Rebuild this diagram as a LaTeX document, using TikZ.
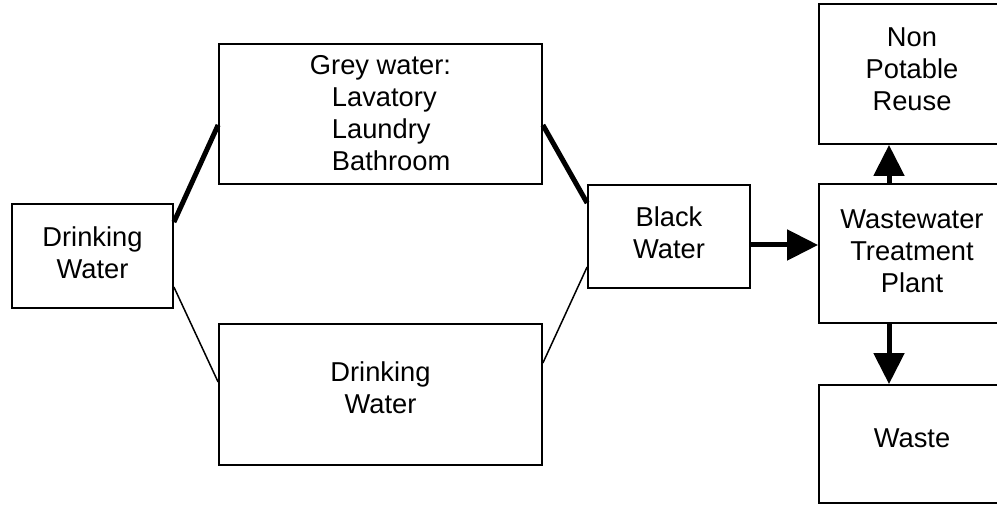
\documentclass[tikz,border=0pt]{standalone}
\usepackage{fontspec}
\setmainfont{Liberation Sans}
\usetikzlibrary{arrows.meta}
\begin{document}
\begin{tikzpicture}[x=1pt,y=-1pt,
  box/.style={draw,line width=1.8pt,inner sep=0pt},
  txt/.style={inner sep=0pt,align=center,font=\fontsize{27.3}{32}\selectfont},
  thin/.style={line width=1.5pt},
  thick/.style={line width=5pt},
  flow/.style={line width=5pt,-{Triangle[length=31pt,width=30pt]}}]
\useasboundingbox (0,0) rectangle (997,505);
\clip (0,0) rectangle (997,505);
\node[box,minimum width=161pt,minimum height=104pt,
  label={[txt,name=dwt,yshift=3pt]center:Drinking\\Water}] (dw) at (92.5,256) {};
\node[box,minimum width=323pt,minimum height=140pt,
  label={[txt,name=gwt,align=left,yshift=1pt]center:Grey water:\\\hspace*{22pt}Lavatory\\\hspace*{22pt}Laundry\\\hspace*{22pt}Bathroom}] (gw) at (380.5,114) {};
\node[box,minimum width=323pt,minimum height=141pt,
  label={[txt,name=dw2t,yshift=6.5pt]center:Drinking\\Water}] (dw2) at (380.5,394.5) {};
\node[box,minimum width=162pt,minimum height=103pt,
  label={[txt,name=bwt,yshift=3.5pt]center:Black\\Water}] (bw) at (669,236.5) {};
\node[box,minimum width=186pt,minimum height=139pt,
  label={[txt,name=wtt,yshift=2pt]center:Wastewater\\Treatment\\Plant}] (wt) at (912,253.5) {};
\node[box,minimum width=186pt,minimum height=140pt,
  label={[txt,name=npt,yshift=5pt]center:Non\\Potable\\Reuse}] (np) at (912,74) {};
\node[box,minimum width=186pt,minimum height=118pt,
  label={[txt,name=wst,yshift=6pt]center:Waste}] (ws) at (912,444) {};
\draw[thick] ([yshift=-19pt]dw.north east) -- ([yshift=-11pt]gw.west);
\draw[thin] ([yshift=-31pt]dw.east) -- ([yshift=12.5pt]dw2.west);
\draw[thick] ([yshift=-11pt]gw.east) -- ([yshift=33.5pt]bw.west);
\draw[thin] ([yshift=31.5pt]dw2.east) -- ([yshift=-30.5pt]bw.west);
\draw[flow] ([yshift=-8.5pt]bw.east) -- ([yshift=8.5pt]wt.west);
\draw[flow] ([xshift=-23pt]wt.north) -- ([xshift=-23pt]np.south);
\draw[flow] ([xshift=-23pt]wt.south) -- ([xshift=-23pt]ws.north);
\end{tikzpicture}
\end{document}
